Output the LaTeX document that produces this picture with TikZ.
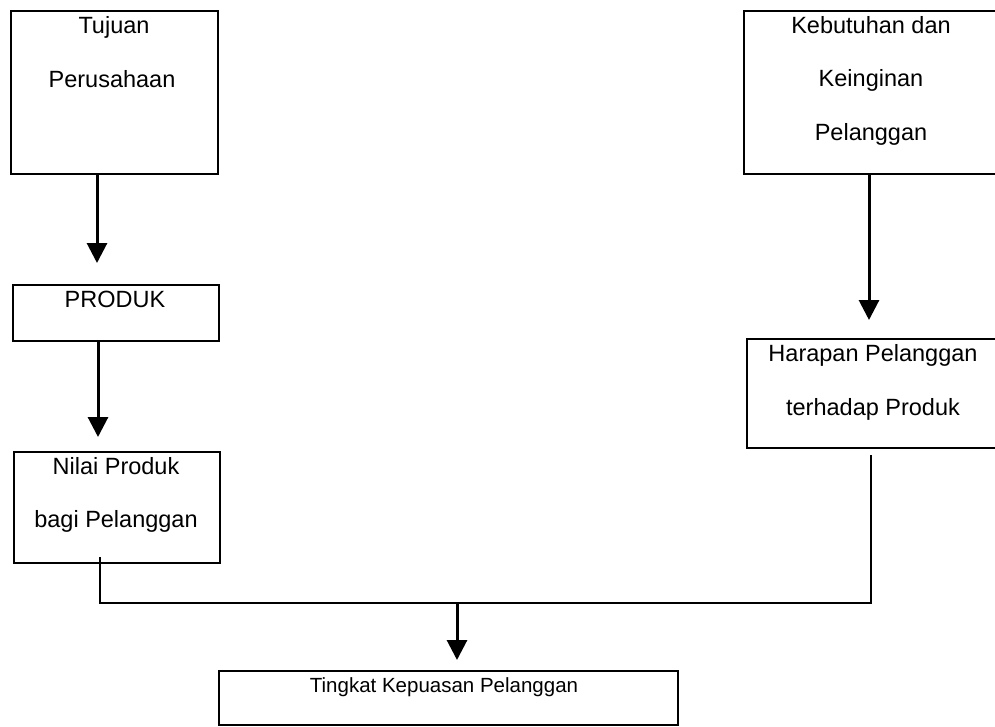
\documentclass[tikz,border=0pt]{standalone}
\usepackage{fontspec}
\setmainfont{Liberation Sans}
\usetikzlibrary{arrows.meta}
\begin{document}
\begin{tikzpicture}[x=1pt,y=-1pt,
  boxnode/.style={draw,line width=1.8pt,rectangle,inner sep=0pt,anchor=north west},
  txt/.style={anchor=base,inner sep=0pt,font=\fontsize{23.5}{28}\selectfont},
  txtsmall/.style={anchor=base,inner sep=0pt,font=\fontsize{20.5}{24}\selectfont},
  arr/.style={line width=3pt,-{Triangle[width=20pt,length=20pt]}},
  conn/.style={line width=2.5pt}]
\useasboundingbox[fill=white] (0,0) rectangle (995,726);
% boxes
\node[boxnode,minimum width=207pt,minimum height=163pt] (tujuan) at (10,10) {};
\node[boxnode,minimum width=206pt,minimum height=56pt] (produk) at (12,284) {};
\node[boxnode,minimum width=206pt,minimum height=111pt] (nilai) at (13,451) {};
\node[boxnode,minimum width=255pt,minimum height=163pt] (keb) at (743,10) {};
\node[boxnode,minimum width=252pt,minimum height=109pt] (har) at (746,338) {};
\node[boxnode,minimum width=459pt,minimum height=54pt] (ting) at (218,670) {};
% texts
\node[txt] (t1) at (114,33) {Tujuan};
\node[txt] (t2) at (112,87) {Perusahaan};
\node[txt] (t3) at (115,307) {PRODUK};
\node[txt] (t4) at (116,474) {Nilai Produk};
\node[txt] (t5) at (116,527) {bagi Pelanggan};
\node[txt] (t6) at (871,33) {Kebutuhan dan};
\node[txt] (t7) at (871,86) {Keinginan};
\node[txt] (t8) at (871,140) {Pelanggan};
\node[txt] (t9) at (873,361) {Harapan Pelanggan};
\node[txt] (t10) at (873,415) {terhadap Produk};
\node[txtsmall] (t11) at (444,692) {Tingkat Kepuasan Pelanggan};
% coordinates
\coordinate (c1) at (97,0);
\coordinate (c2) at (98,0);
\coordinate (c3) at (869,0);
\coordinate (jl) at (100,603);
\coordinate (jm) at (457,603);
\coordinate (jr) at (871,603);
% arrows
\draw[arr,shorten >=21pt] (c1 |- tujuan.south) -- (c1 |- produk.north);
\draw[arr,shorten >=14pt] (c2 |- produk.south) -- (c2 |- nilai.north);
\draw[arr,shorten >=18pt] (c3 |- keb.south) -- (c3 |- har.north);
\draw[conn] ([yshift=7pt]jl |- nilai.south) -- (jl) -- (jr) -- ([yshift=-6pt]jr |- har.south);
\draw[arr,shorten >=10pt] (jm) -- (jm |- ting.north);
\end{tikzpicture}
\end{document}
